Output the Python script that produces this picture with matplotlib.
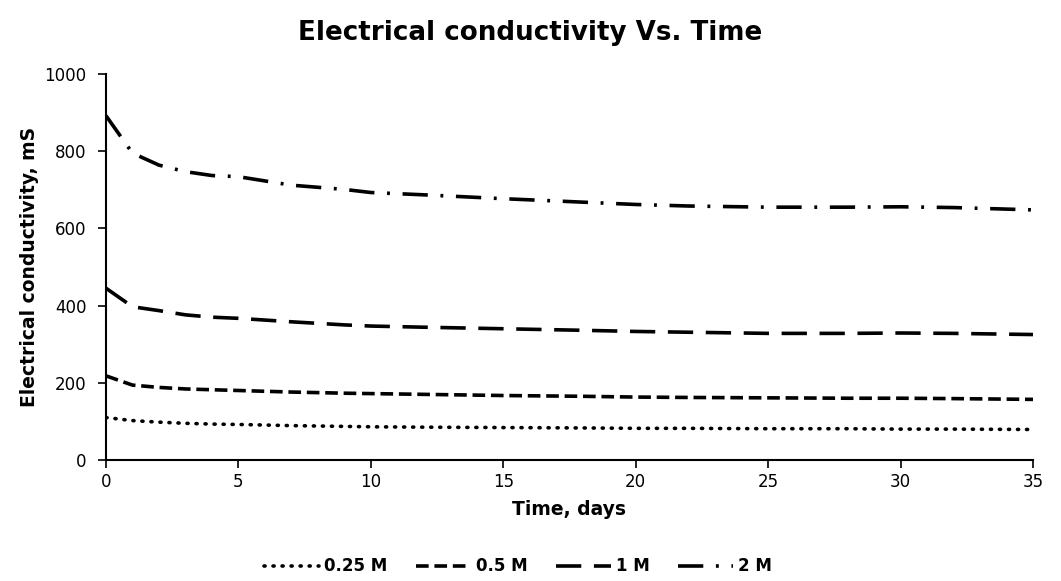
import matplotlib
matplotlib.use('Agg')
import matplotlib.pyplot as plt

plt.rcParams['font.family'] = ['DejaVu Sans']

# time, days
days = [0, 1, 2, 3, 4, 5, 7, 9, 10, 12, 15, 18, 20, 22, 25, 28, 30, 32, 35]

# electrical conductivity, mS
ec_025 = [110, 102, 98, 95, 93, 92, 89, 87, 86, 85, 84, 83, 82, 82, 81, 81, 80, 80, 79]
ec_05 = [218, 194, 188, 184, 182, 180, 176, 173, 172, 170, 167, 165, 163, 162, 161, 160, 160, 159, 157]
ec_1 = [445, 397, 387, 376, 370, 367, 358, 350, 347, 344, 340, 336, 333, 331, 328, 328, 329, 328, 325]
ec_2 = [892, 795, 764, 747, 737, 734, 712, 701, 693, 687, 677, 668, 662, 658, 655, 655, 656, 654, 648]

labels = ['0.25 M', '0.5 M', '1 M', '2 M']

fig = plt.figure(figsize=(10.61, 5.81), dpi=100)
ax = fig.add_axes([0.0999, 0.2083, 0.8737, 0.6643])

lw = 2.6
ax.plot(days, ec_025, color='black', lw=lw, linestyle=(0, (0.3, 2.2)),
        dash_capstyle='round', label=labels[0])
ax.plot(days, ec_05, color='black', lw=lw, linestyle=(0, (3.5, 1.6)), label=labels[1])
ax.plot(days, ec_1, color='black', lw=lw, linestyle=(0, (7, 3.5)), label=labels[2])
ax.plot(days, ec_2, color='black', lw=lw, linestyle=(0, (7, 3.5, 0.8, 3.5)), label=labels[3])

ax.set_xlim(0, 35)
ax.set_ylim(0, 1000)
ax.set_xticks(range(0, 36, 5))
ax.set_yticks(range(0, 1001, 200))
ax.spines['top'].set_visible(False)
ax.spines['right'].set_visible(False)
ax.spines['left'].set_linewidth(1.5)
ax.spines['bottom'].set_linewidth(1.5)
ax.tick_params(axis='both', direction='out', length=6, width=1.2, labelsize=12)
ax.tick_params(axis='y', pad=8)

ax.set_xlabel('Time, days', fontsize=13.5, fontweight='bold', labelpad=6)
ax.set_ylabel('Electrical conductivity, mS', fontsize=13.5, fontweight='bold', labelpad=4)
fig.suptitle('Electrical conductivity Vs. Time', fontsize=18.8, fontweight='bold', y=0.965)

leg = fig.legend(loc='center', bbox_to_anchor=(0.488, 0.025), ncol=4, frameon=False,
                 prop={'weight': 'bold', 'size': 12}, handlelength=3.3, columnspacing=1.7,
                 handletextpad=0.3)

fig.savefig('out.png', dpi=100)
